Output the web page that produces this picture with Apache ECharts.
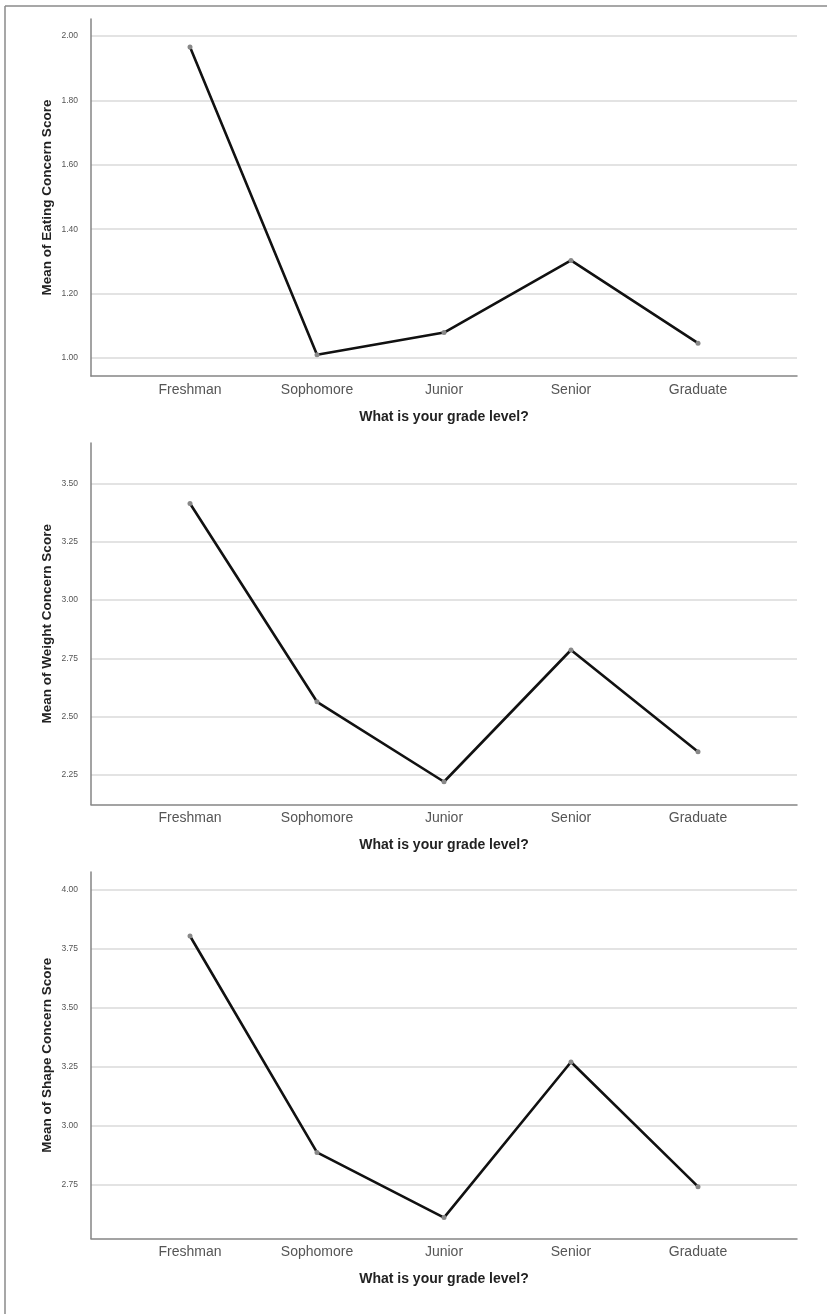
<!DOCTYPE html>
<html>
<head>
<meta charset="utf-8">
<script src="https://cdn.jsdelivr.net/npm/echarts@6/dist/echarts.min.js"></script>
<style>
html,body{margin:0;padding:0;background:#fff;}
#chart{width:827px;height:1314px;}
</style>
</head>
<body>
<div id="chart"></div>
<script>
// ---- data ----
const categories = ['Freshman', 'Sophomore', 'Junior', 'Senior', 'Graduate'];
const eatingMeans = [1.966, 1.010, 1.079, 1.303, 1.046];
const weightMeans = [3.414, 2.564, 2.221, 2.786, 2.350];
const shapeMeans  = [3.805, 2.888, 2.612, 3.271, 2.743];
// axis tick ranges: [min, max, step]
const eatingTicks = [1.00, 2.00, 0.20];
const weightTicks = [2.25, 3.50, 0.25];
const shapeTicks  = [2.75, 4.00, 0.25];
const xTitle = 'What is your grade level?';
const yTitles = ['Mean of Eating Concern Score', 'Mean of Weight Concern Score', 'Mean of Shape Concern Score'];

// ---- layout (pixels) ----
const panels = [
  { data: eatingMeans, ticks: eatingTicks, frameTop: 19,  axisY: 376,   tickTop: 36,   tickBottom: 358 },
  { data: weightMeans, ticks: weightTicks, frameTop: 443, axisY: 804.5, tickTop: 483.5, tickBottom: 775 },
  { data: shapeMeans,  ticks: shapeTicks,  frameTop: 872, axisY: 1238.5, tickTop: 890, tickBottom: 1185 }
];
const plotLeft = 91, plotRight = 797, W = 827;
const dataLeft = 126.5, dataWidth = 635;

const grids = [], xAxes = [], yAxes = [], series = [];
const axisColor = '#858585';
const gridColor = '#dadada';

panels.forEach((p, i) => {
  const g0 = grids.length;
  // frame grid
  grids.push({ left: plotLeft, width: plotRight - plotLeft, top: p.frameTop, height: p.axisY - p.frameTop });
  xAxes.push({
    gridIndex: g0, type: 'value', min: 0, max: 1,
    axisLine: { show: true, lineStyle: { color: axisColor, width: 1.5 } },
    axisTick: { show: false }, axisLabel: { show: false }, splitLine: { show: false },
    name: xTitle, nameLocation: 'middle', nameGap: 34,
    nameTextStyle: { fontFamily: 'Liberation Sans, Arial, sans-serif', fontWeight: 'bold', fontSize: 14, color: '#222' }
  });
  yAxes.push({
    gridIndex: g0, type: 'value', min: 0, max: 1,
    axisLine: { show: true, lineStyle: { color: axisColor, width: 1.5 } },
    axisTick: { show: false }, axisLabel: { show: false }, splitLine: { show: false },
    name: yTitles[i], nameLocation: 'middle', nameGap: 37,
    nameTextStyle: { fontFamily: 'Liberation Sans, Arial, sans-serif', fontWeight: 'bold', fontSize: 13.5, color: '#222' }
  });
  // value grid (ticks + gridlines)
  const g1 = grids.length;
  grids.push({ left: plotLeft, width: plotRight - plotLeft, top: p.tickTop, height: p.tickBottom - p.tickTop });
  xAxes.push({ gridIndex: g1, type: 'value', min: 0, max: 1, show: false });
  yAxes.push({
    gridIndex: g1, type: 'value', min: p.ticks[0], max: p.ticks[1], interval: p.ticks[2],
    axisLine: { show: false }, axisTick: { show: false },
    axisLabel: { margin: 13, fontSize: 8.5, color: '#555', fontFamily: 'Liberation Sans Narrow, Arial Narrow, Liberation Sans, sans-serif',
      formatter: v => v.toFixed(2) },
    splitLine: { show: true, lineStyle: { color: gridColor, width: 1.5 } }
  });
  // data grid
  const g2 = grids.length;
  grids.push({ left: dataLeft, width: dataWidth, top: p.tickTop, height: p.tickBottom - p.tickTop });
  xAxes.push({
    gridIndex: g2, type: 'category', data: categories, boundaryGap: true,
    offset: p.axisY - p.tickBottom,
    axisLine: { show: false }, axisTick: { show: false }, splitLine: { show: false },
    axisLabel: { margin: 7, fontSize: 14, color: '#555', fontFamily: 'Liberation Sans, Arial, sans-serif' }
  });
  yAxes.push({ gridIndex: g2, type: 'value', min: p.ticks[0], max: p.ticks[1], show: false });
  series.push({
    type: 'line', xAxisIndex: g2, yAxisIndex: g2, data: p.data,
    clip: false,
    symbol: 'circle', symbolSize: 5, showSymbol: true,
    lineStyle: { color: '#111', width: 2.6 },
    itemStyle: { color: '#888' },
    silent: true, animation: false, z: 3
  });
});

const chart = echarts.init(document.getElementById('chart'), null, { renderer: 'canvas' });
chart.setOption({
  backgroundColor: '#fff',
  animation: false,
  grid: grids,
  xAxis: xAxes,
  yAxis: yAxes,
  series: series,
  graphic: [
    { type: 'line', shape: { x1: 5, y1: 6, x2: W, y2: 6 }, style: { stroke: '#8a8a8a', lineWidth: 1.5 } },
    { type: 'line', shape: { x1: 5, y1: 6, x2: 5, y2: 1314 }, style: { stroke: '#8a8a8a', lineWidth: 1.5 } }
  ]
});
</script>
</body>
</html>
